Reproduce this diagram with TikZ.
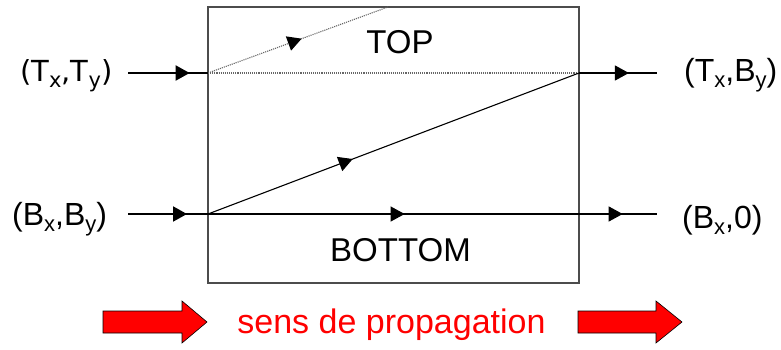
\documentclass[tikz,border=0pt]{standalone}
\usepackage{fontspec}
\setmainfont{Liberation Sans}
\newfontfamily\dvfont{DejaVu Sans}
\usetikzlibrary{arrows.meta,decorations.markings}
\newcommand\subs[2][22]{{\fontsize{#1}{#1}\selectfont\raisebox{-0.3em}{#2}}}
\tikzset{
  midarrow/.style={postaction={decorate},decoration={markings,
    mark=at position #1 with {\arrow[black,solid]{Triangle[length=14pt,width=15pt]}}}},
  wire/.style={line width=1.1pt,black},
  dotwire/.style={line width=1.1pt,densely dotted,black!60},
  lbl/.style={inner sep=0pt,anchor=base west,font=\fontsize{32}{38}\selectfont},
  boxlbl/.style={inner sep=0pt,anchor=base,font=\fontsize{33}{40}\selectfont},
  redarrow/.style={fill=red,draw=black,line width=0.6pt,line join=miter}
}
\begin{document}
\begin{tikzpicture}[x=1pt,y=-1pt]
\useasboundingbox (0,0) rectangle (781,349);
% box
\node[draw=black!70,line width=1.2pt,minimum width=371pt,minimum height=276pt,inner sep=0pt] (box) at (393.5,145) {};
% coordinates
\coordinate (tl) at (208,73);
\coordinate (tr) at (579,73);
\coordinate (bl) at (208,214);
\coordinate (br) at (579,214);
\coordinate (tin) at (128,73);
\coordinate (bin) at (128,214);
\coordinate (tthick) at (140,73);
\coordinate (bthick) at (148,214);
\coordinate (tout) at (657,73);
\coordinate (bout) at (657,214);
\coordinate (dtop) at (388,7);
% labels
\node[lbl,font=\dvfont\fontsize{29}{34}\selectfont] (ltt) at (20,81) {(T\subs[21]{x},T\subs[21]{y})};
\node[lbl] (lbb) at (12,225) {(B\subs{x},B\subs{y})};
\node[lbl] (ltb) at (684,81) {(T\subs{x},B\subs{y})};
\node[lbl] (lb0) at (682,228) {(B\subs{x},0)};
\node[boxlbl] (top) at (400,53) {TOP};
\node[boxlbl] (bottom) at (400.5,261) {BOTTOM};
\node[inner sep=0pt,anchor=base,text=red,font=\fontsize{34}{40}\selectfont] (sens) at (391.5,333) {sens de propagation};
% wires
\draw[wire] (tin) -- (tl);
\draw[line width=2pt,midarrow=0.73] (tthick) -- (tl);
\draw[wire] (bin) -- (bl);
\draw[line width=2pt,midarrow=0.65] (bthick) -- (bl);
\draw[dotwire] (tl) -- (tr);
\draw[dotwire,midarrow=0.52] (tl) -- (dtop);
\draw[wire,midarrow=0.39] (bl) -- (tr);
\draw[wire,midarrow=0.53] (bl) -- (br);
\draw[wire,midarrow=0.64] (tr) -- (tout);
\draw[wire,midarrow=0.56] (br) -- (bout);
% red arrows
\draw[redarrow] (103,311) -- (182,311) -- (182,301) -- (207,322) -- (182,343) -- (182,333) -- (103,333) -- cycle;
\draw[redarrow] (578,311) -- (656,311) -- (656,301) -- (682,322) -- (656,343) -- (656,333) -- (578,333) -- cycle;
\end{tikzpicture}
\end{document}
